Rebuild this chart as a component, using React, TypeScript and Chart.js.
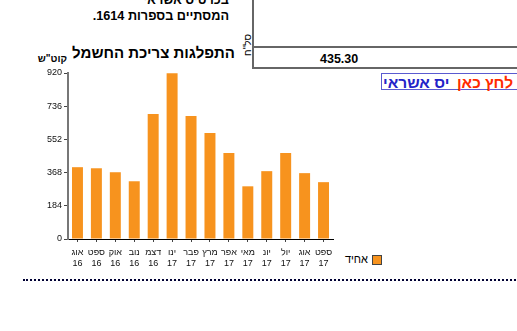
import React, { useEffect, useRef } from "react";
import { Chart, registerables } from "chart.js";

Chart.register(...registerables);

const months = ["אוג", "ספט", "אוק", "נוב", "דצמ", "ינו", "פבר", "מרץ", "אפר", "מאי", "יונ", "יול", "אוג", "ספט"];
const years = ["16", "16", "16", "16", "16", "17", "17", "17", "17", "17", "17", "17", "17", "17"];
const consumption = [398, 392, 370, 320, 693, 918, 682, 587, 476, 292, 376, 476, 365, 315];
const yTickValues = [0, 184, 368, 552, 736, 920];
const seriesName = "אחיד";
const chartTitle = "התפלגות צריכת החשמל";
const unitLabel = "קוט\"ש";
const amountText = "435.30";

const FONT = "'Liberation Sans', Arial, sans-serif";
const ORANGE = "#F7931E";

function BarChart() {
  const ref = useRef<HTMLCanvasElement | null>(null);
  useEffect(() => {
    if (!ref.current) return;
    const chart = new Chart(ref.current, {
      type: "bar",
      data: {
        labels: months.map((m, i) => [m, years[i]]),
        datasets: [
          {
            label: seriesName,
            data: consumption,
            backgroundColor: ORANGE,
            barPercentage: 0.725,
            categoryPercentage: 0.8,
          },
        ],
      },
      options: {
        responsive: false,
        animation: false,
        devicePixelRatio: 1,
        layout: { padding: { top: 13, right: 7, left: 0, bottom: 0 } },
        plugins: {
          legend: { display: false },
          tooltip: { enabled: false },
          title: { display: false },
        },
        scales: {
          x: {
            grid: { drawOnChartArea: false, offset: false, tickLength: 3, color: "#444" },
            border: { color: "#000", width: 1 },
            ticks: {
              autoSkip: false,
              maxRotation: 0,
              minRotation: 0,
              padding: 5,
              color: "#111",
              font: { family: FONT, size: 9, lineHeight: 1.2 },
            },
            afterFit: (s: any) => {
              s.height = 36;
            },
          },
          y: {
            min: 0,
            max: 920,
            afterBuildTicks: (s: any) => {
              s.ticks = yTickValues.map((v) => ({ value: v }));
            },
            grid: { drawOnChartArea: false, tickLength: 4, color: "#444" },
            border: { color: "#777", width: 2 },
            ticks: {
              padding: 2,
              color: "#111",
              font: { family: FONT, size: 9 },
            },
            afterFit: (s: any) => {
              s.width = 48;
            },
          },
        },
      },
    });
    return () => chart.destroy();
  }, []);
  return (
    <canvas
      ref={ref}
      width={320}
      height={215}
      style={{ position: "absolute", left: 20, top: 60, width: 320, height: 215 }}
    />
  );
}

export default function App() {
  return (
    <div
      style={{
        position: "fixed",
        left: 0,
        top: 0,
        width: 517,
        height: 331,
        background: "#fff",
        overflow: "hidden",
        fontFamily: FONT,
        color: "#000",
      }}
    >
      {/* top text block */}
      <div
        dir="rtl"
        style={{
          position: "absolute",
          right: 517 - 229,
          top: -7,
          fontSize: 12.7,
          lineHeight: "15.5px",
          fontWeight: "bold",
          textAlign: "right",
          whiteSpace: "nowrap",
        }}
      >
        <div>בכרטיס אשראי</div>
        <div>המסתיים בספרות 1614.</div>
      </div>

      {/* summary box */}
      <div
        style={{
          position: "absolute",
          left: 252,
          top: -20,
          width: 320,
          height: 89,
          borderLeft: "2px solid #666",
          borderBottom: "2px solid #666",
          boxSizing: "border-box",
        }}
      />
      <div style={{ position: "absolute", left: 252, top: 46, width: 300, height: 2, background: "#666" }} />
      <div
        style={{
          position: "absolute",
          left: 320,
          top: 51.5,
          fontSize: 12.5,
          lineHeight: "15px",
          fontWeight: "bold",
          whiteSpace: "nowrap",
        }}
      >
        {amountText}
      </div>
      <div
        dir="rtl"
        style={{
          position: "absolute",
          left: 248,
          top: 45,
          fontSize: 10,
          lineHeight: "10px",
          whiteSpace: "nowrap",
          transform: "translate(-50%, -50%) rotate(-90deg)",
        }}
      >
        סל"ח
      </div>

      {/* link box */}
      <div
        style={{
          position: "absolute",
          left: 381,
          top: 73,
          width: 150,
          height: 17,
          border: "1px solid #5a5ad0",
          boxSizing: "border-box",
        }}
      />
      <div
        dir="rtl"
        style={{
          position: "absolute",
          left: 383,
          top: 74.4,
          fontSize: 15.5,
          lineHeight: "17px",
          fontWeight: "bold",
          whiteSpace: "nowrap",
          color: "#2323c8",
        }}
      >
        יס אשראי
      </div>
      <div
        dir="rtl"
        style={{
          position: "absolute",
          right: 517 - 513,
          top: 74.4,
          fontSize: 15.5,
          lineHeight: "17px",
          fontWeight: "bold",
          whiteSpace: "nowrap",
          color: "#ff2a00",
        }}
      >
        לחץ כאן
      </div>

      {/* chart title and unit */}
      <div
        dir="rtl"
        style={{
          position: "absolute",
          right: 517 - 235,
          top: 44.4,
          fontSize: 15,
          lineHeight: "17px",
          fontWeight: "bold",
          whiteSpace: "nowrap",
        }}
      >
        {chartTitle}
      </div>
      <div
        dir="rtl"
        style={{
          position: "absolute",
          right: 517 - 67,
          top: 53,
          fontSize: 10,
          lineHeight: "11px",
          fontWeight: "bold",
          whiteSpace: "nowrap",
        }}
      >
        {unitLabel}
      </div>

      <BarChart />

      {/* legend */}
      <div
        style={{
          position: "absolute",
          left: 372,
          top: 255,
          width: 10,
          height: 10,
          background: ORANGE,
          border: "1px solid #444",
          boxSizing: "border-box",
        }}
      />
      <div
        dir="rtl"
        style={{
          position: "absolute",
          right: 517 - 368,
          top: 253,
          fontSize: 11,
          lineHeight: "12px",
          whiteSpace: "nowrap",
        }}
      >
        {seriesName}
      </div>

      {/* dotted separator */}
      <div
        style={{
          position: "absolute",
          left: 23,
          top: 279,
          width: 520,
          height: 0,
          borderTop: "2px dotted #000033",
        }}
      />
    </div>
  );
}
